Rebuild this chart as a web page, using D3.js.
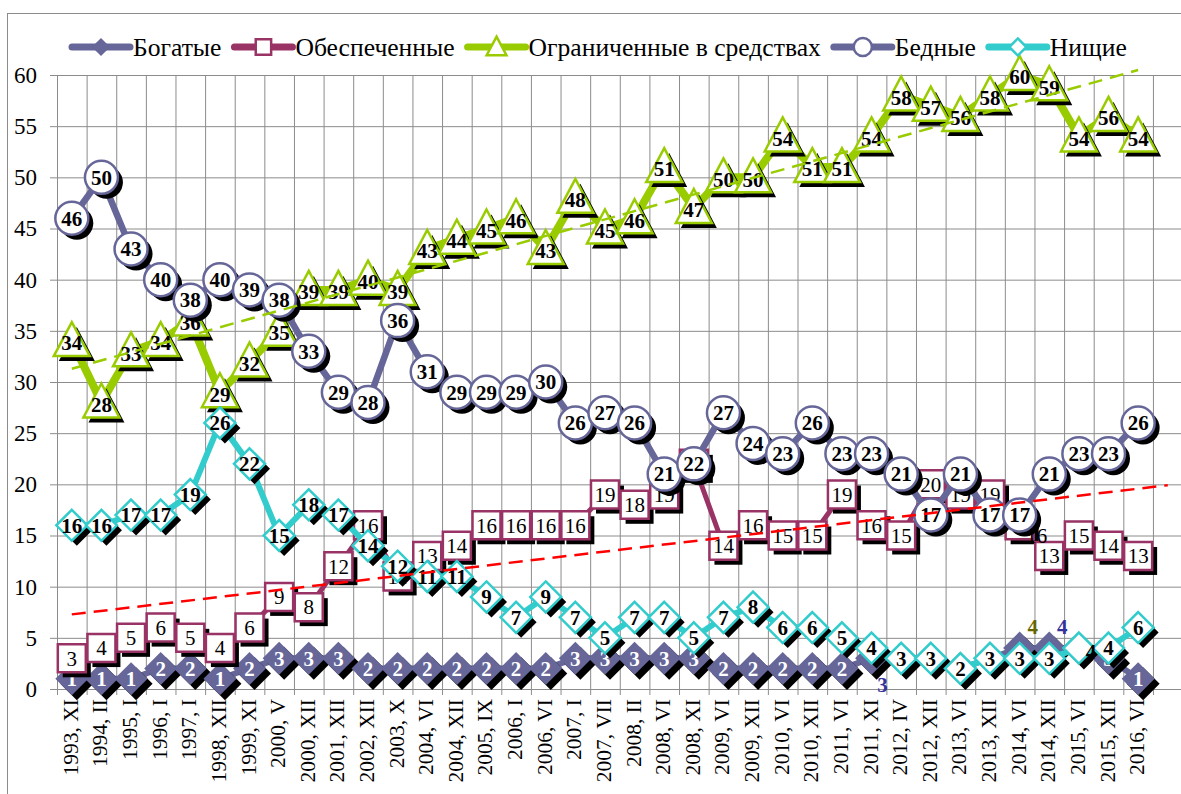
<!DOCTYPE html>
<html>
<head>
<meta charset="utf-8">
<script src="https://cdn.jsdelivr.net/npm/d3@7"></script>
<style>
  body { margin: 0; background: #fff; }
  svg { display: block; }
  .grid line { stroke: #8c8c8c; stroke-width: 1; }
  .grid path { display: none; }
  .axis path, .axis line { stroke: #8c8c8c; }
</style>
</head>
<body>
<div id="chart"></div>
<script>
const categories = ["1993, XI", "1994, II", "1995, I", "1996, I", "1997, I", "1998, XII", "1999, XI",
  "2000, V", "2000, XII", "2001, XII", "2002, XII", "2003, X", "2004, VI", "2004, XII", "2005, IX",
  "2006, I", "2006, VI", "2007, I", "2007, VII", "2008, II", "2008, VI", "2008, XI", "2009, VI",
  "2009, XII", "2010, VI", "2010, XII", "2011, VI", "2011, XI", "2012, IV", "2012, XII", "2013, VI",
  "2013, XII", "2014, VI", "2014, XII", "2015, VI", "2015, XII", "2016, VI"]

const bogatye = [1,1,1,2,2,1,2,3,3,3,2,2,2,2,2,2,2,3,3,3,3,3,2,2,2,2,2,3,3,3,2,3,4,4,4,3,1]
const obespechennye = [3,4,5,6,5,4,6,9,8,12,16,11,13,14,16,16,16,16,19,18,19,22,14,16,15,15,19,16,15,20,19,19,16,13,15,14,13]
const ogranichennye = [34,28,33,34,36,29,32,35,39,39,40,39,43,44,45,46,43,48,45,46,51,47,50,50,54,51,51,54,58,57,56,58,60,59,54,56,54]
const bednye = [46,50,43,40,38,40,39,38,33,29,28,36,31,29,29,29,30,26,27,26,21,22,27,24,23,26,23,23,21,17,21,17,17,21,23,23,26]
const nischie = [16,16,17,17,19,26,22,15,18,17,14,12,11,11,9,7,9,7,5,7,7,5,7,8,6,6,5,4,3,3,2,3,3,3,4,4,6]

const yTicks = [0, 5, 10, 15, 20, 25, 30, 35, 40, 45, 50, 55, 60]

// moved data labels: index -> [dx, dy, colour]
const labelMoves = {
  "Богатые": { 27: [11, 26, "#333399"], 32: [13, -21, "#666600"], 33: [13, -21, "#333399"] },
  "Обеспеченные": { 32: [17, 10] },
  "Нищие": { 34: [12, 4] }
}

const FONT = "serif"
const W = 1181, H = 794
const plotLeft = 57, plotTop = 75, plotBottom = 689
const step = 29.62
const nSlots = categories.length + 1   // one empty slot at the right end

const svg = d3.select("#chart").append("svg")
  .attr("width", W)
  .attr("height", H)
  .style("font-family", FONT)

svg.append("rect")
  .attr("x", 7.5).attr("y", 13.5)
  .attr("width", W + 20).attr("height", H + 20)
  .attr("fill", "none").attr("stroke", "#8c8c8c")

const xi = d3.scaleLinear().domain([0, nSlots]).range([plotLeft, plotLeft + nSlots * step])
const cx = i => xi(i + 0.5)
const y = d3.scaleLinear().domain([0, 60]).range([plotBottom, plotTop])
const plotRight = xi(nSlots)

// grid
svg.append("g")
  .attr("class", "grid")
  .attr("transform", "translate(" + plotLeft + ",0)")
  .call(d3.axisLeft(y).tickValues(yTicks).tickSize(-(plotRight - plotLeft)).tickFormat(""))

svg.append("g")
  .attr("class", "grid")
  .attr("transform", "translate(0," + plotBottom + ")")
  .call(d3.axisBottom(xi).tickValues(d3.range(1, nSlots + 1)).tickSize(-(plotBottom - plotTop)).tickFormat(""))

// axes
svg.append("g")
  .attr("class", "axis")
  .attr("transform", "translate(" + plotLeft + ",0)")
  .call(d3.axisLeft(y).tickValues(yTicks).tickSizeInner(7).tickSizeOuter(0).tickPadding(13))
  .attr("font-family", null)
  .selectAll("text")
  .style("font-family", FONT)
  .style("font-size", "23px")
  .attr("fill", "#000")

svg.append("g")
  .attr("class", "axis")
  .attr("transform", "translate(0," + plotBottom + ")")
  .call(d3.axisBottom(xi).tickValues(d3.range(0, nSlots + 1)).tickSizeInner(6).tickSizeOuter(0).tickFormat(""))

svg.append("g")
  .selectAll("text")
  .data(categories)
  .join("text")
  .attr("transform", (d, i) => "translate(" + (cx(i) + 6) + "," + (plotBottom + 10) + ") rotate(-90)")
  .attr("text-anchor", "end")
  .style("font-family", FONT)
  .style("font-size", "21.5px")
  .text(d => d)

// marker shapes
const shapes = {
  fatDiamond: "M0,-16.5L16.5,0L0,16.5L-16.5,0Z",
  square: "M-14,-14H14V14H-14Z",
  triangle: "M0,-19L18,15H-18Z",
  circle: "M-16.5,0A16.5,16.5 0 1,0 16.5,0A16.5,16.5 0 1,0 -16.5,0Z",
  diamond: "M0,-15.5L15.5,0L0,15.5L-15.5,0Z"
}

const series = [
  { name: "Богатые", values: bogatye, color: "#666699", width: 6, shape: "fatDiamond", fill: "#666699", text: "#fff", bold: true },
  { name: "Обеспеченные", values: obespechennye, color: "#993366", width: 5, shape: "square", fill: "#fff", text: "#000", bold: false },
  { name: "Ограниченные в средствах", values: ogranichennye, color: "#99cc00", width: 8, shape: "triangle", fill: "#fff", text: "#000", bold: true },
  { name: "Бедные", values: bednye, color: "#666699", width: 6.5, shape: "circle", fill: "#fff", text: "#000", bold: true },
  { name: "Нищие", values: nischie, color: "#33cccc", width: 6, shape: "diamond", fill: "#fff", text: "#000", bold: true }
]

const line = d3.line()
  .x((d, i) => cx(i))
  .y(d => y(d))

series.forEach(s => {
  const g = svg.append("g")

  g.append("path")
    .datum(s.values)
    .attr("d", line)
    .attr("fill", "none")
    .attr("stroke", s.color)
    .attr("stroke-width", s.width)
    .attr("stroke-linejoin", "round")

  g.selectAll(".shadow")
    .data(s.values)
    .join("path")
    .attr("class", "shadow")
    .attr("d", shapes[s.shape])
    .attr("transform", (d, i) => "translate(" + (cx(i) + 5) + "," + (y(d) + 5) + ")")
    .attr("fill", "#000")

  g.selectAll(".marker")
    .data(s.values)
    .join("path")
    .attr("class", "marker")
    .attr("d", shapes[s.shape])
    .attr("transform", (d, i) => "translate(" + cx(i) + "," + y(d) + ")")
    .attr("fill", s.fill)
    .attr("stroke", s.color)
    .attr("stroke-width", s.shape == "fatDiamond" ? 0 : 2.5)

  const moves = labelMoves[s.name] || {}
  g.selectAll(".lbl")
    .data(s.values)
    .join("text")
    .attr("class", "lbl")
    .attr("x", (d, i) => cx(i) + (moves[i] ? moves[i][0] : 0))
    .attr("y", (d, i) => y(d) + (moves[i] ? moves[i][1] : 0) + (s.shape == "triangle" ? 2 : 0))
    .attr("dy", "0.35em")
    .attr("text-anchor", "middle")
    .style("font-family", FONT)
    .style("font-size", "21px")
    .style("font-weight", s.bold ? "bold" : "normal")
    .attr("fill", (d, i) => moves[i] && moves[i][2] ? moves[i][2] : (moves[i] && s.text == "#fff" ? "#000" : s.text))
    .text(d => d)
})

// linear trend lines
function trend(values) {
  const idx = values.map((d, i) => i)
  const mx = d3.mean(idx), my = d3.mean(values)
  const slope = d3.sum(idx, i => (i - mx) * (values[i] - my)) / d3.sum(idx, i => (i - mx) * (i - mx))
  return i => my + slope * (i - mx)
}

const trends = [
  { values: obespechennye, color: "#ff0000", to: categories.length },
  { values: ogranichennye, color: "#99cc00", to: categories.length - 1 }
]

trends.forEach(t => {
  const f = trend(t.values)
  svg.append("path")
    .datum([0, t.to])
    .attr("d", d3.line().x(i => cx(i)).y(i => y(f(i))))
    .attr("fill", "none")
    .attr("stroke", t.color)
    .attr("stroke-width", 2.5)
    .attr("stroke-dasharray", "14,8")
})

// legend: lay out once, then size the font so it spans the same width as the original
const legend = svg.append("g").attr("transform", "translate(72,47)")
const legendWidth = 1055, swatch = 61, gap = 13
let legendFont = 25
const items = series.map(s => {
  const item = legend.append("g")
  item.append("line")
    .attr("x1", 0).attr("x2", 58)
    .attr("stroke", s.color)
    .attr("stroke-width", 7)
    .attr("stroke-linecap", "round")
  item.append("path")
    .attr("d", shapes[s.shape])
    .attr("transform", "translate(29,0) scale(0.55)")
    .attr("fill", s.fill)
    .attr("stroke", s.color)
    .attr("stroke-width", s.shape == "fatDiamond" ? 0 : 4.5)
  const txt = item.append("text")
    .attr("x", swatch)
    .attr("y", 8.5)
    .style("font-family", FONT)
    .style("font-size", legendFont + "px")
    .text(s.name)
  return { item, txt }
})
const textTotal = d3.sum(items, d => d.txt.node().getComputedTextLength())
const fixedTotal = series.length * swatch + (series.length - 1) * gap
legendFont = legendFont * (legendWidth - fixedTotal) / textTotal
let lx = 0
items.forEach(d => {
  d.txt.style("font-size", legendFont + "px")
  d.item.attr("transform", "translate(" + lx + ",0)")
  lx += swatch + d.txt.node().getComputedTextLength() + gap
})
</script>
</body>
</html>
